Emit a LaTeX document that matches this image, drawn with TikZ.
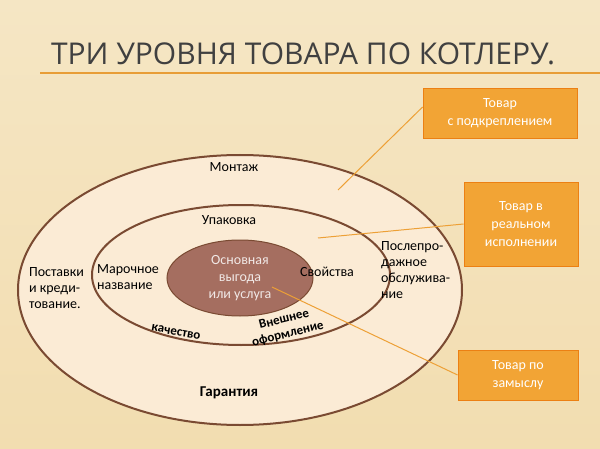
\documentclass[tikz,border=0pt]{standalone}
\usepackage{fontspec}
\usetikzlibrary{shapes.geometric}
\setmainfont{Carlito}
\newfontfamily\titlefont{Open Sans}
\definecolor{bgtop}{HTML}{F5E6C4}
\definecolor{bgbot}{HTML}{F2DDB0}
\definecolor{boxc}{HTML}{F2A435}
\definecolor{corec}{HTML}{A56E60}
\definecolor{ringc}{HTML}{7A4A32}
\definecolor{fillc}{HTML}{FBEBD5}
\begin{document}
\begin{tikzpicture}[x=0.5pt,y=-0.5pt,
  lbl/.style={font=\fontsize{7}{8}\selectfont,text=black,align=left},
  obox/.style={fill=boxc,draw=orange!70!brown,text=white,align=center,font=\fontsize{7}{9}\selectfont,inner sep=0},
  ptr/.style={draw=boxc!90!brown,line width=0.5pt}]
\useasboundingbox (0,0) rectangle (600,449);
\shade[top color=bgtop,bottom color=bgbot] (0,0) rectangle (600,449);
\node[font=\titlefont\fontsize{15}{15}\selectfont,text=black!75] (title) at (303,54) {ТРИ УРОВНЯ ТОВАРА ПО КОТЛЕРУ.};
\draw[boxc!80!brown,line width=0.6pt] (40,73) -- (600,73);
\node[draw=ringc,fill=fillc,line width=1pt,ellipse,minimum width=222pt,minimum height=135pt,inner sep=0] (outer) at (240,290) {};
\node[draw=ringc,fill=fillc,line width=1pt,ellipse,minimum width=149pt,minimum height=70pt,inner sep=0] (mid) at (241,275) {};
\node[fill=corec,draw=ringc,line width=0.5pt,ellipse,minimum width=73pt,minimum height=38pt,inner sep=0,align=center,text=white!85!corec,font=\fontsize{7}{8.5}\selectfont] (core) at (240,278) {Основная\\выгода\\или услуга};
\node[obox,minimum width=77pt,minimum height=25pt] (b1) at (500,113) {Товар\\с подкреплением};
\node[obox,minimum width=57pt,minimum height=42pt] (b2) at (521,224) {Товар в\\реальном\\исполнении};
\node[obox,minimum width=60pt,minimum height=25pt] (b3) at (518,375) {Товар по\\замыслу};
\coordinate (p1) at (338,190);
\coordinate (p2) at (318,238);
\coordinate (p3) at (272,287);
\draw[ptr] (b1.west) ++(0,-6) -- (p1);
\draw[ptr] (b2.west) -- (p2);
\draw[ptr] (b3.west) -- (p3);
\node[lbl] (m1) at (234,167) {Монтаж};
\node[lbl] (m2) at (229,220) {Упаковка};
\node[lbl] (m3) at (128,277) {Марочное\\название};
\node[lbl] (m4) at (327,272) {Свойства};
\node[lbl,anchor=west] (m5) at (374,270) {Послепро-\\дажное\\обслужива-\\ние};
\node[lbl,anchor=west] (m6) at (22,288) {Поставки\\и креди-\\тование.};
\node[lbl,rotate=-10,font=\bfseries\fontsize{6.5}{7}\selectfont] (m7) at (176,332) {качество};
\node[lbl,rotate=14,align=center,font=\bfseries\fontsize{6.5}{7.5}\selectfont] (m8) at (286,327) {Внешнее\\оформление};
\node[lbl,font=\bfseries\fontsize{7.5}{8}\selectfont] (m9) at (229,393) {Гарантия};
\end{tikzpicture}
\end{document}
